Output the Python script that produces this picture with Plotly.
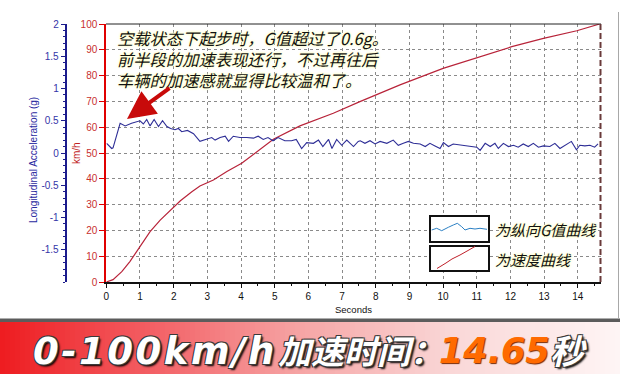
import plotly.graph_objects as go

# ---------------- data ----------------
speed_time = [0, 0.2, 0.46, 0.7, 1.0, 1.3, 1.6, 2.0, 2.2, 2.54, 2.78, 3.18, 3.58, 4.02,
              4.47, 4.96, 5.75, 6.74, 7.53, 8.72, 10.0, 11.4, 12.04, 12.98, 13.97, 14.65]
speed_kmh = [0, 0.9, 4, 7.9, 13.7, 19.5, 24, 29.2, 31.5, 35, 37.2, 39.5, 42.8, 46,
             50.5, 55.3, 60.5, 65.4, 69.9, 76.4, 82.8, 88.6, 91.2, 94.4, 97.4, 100]

accel_time = [0.01, 0.16, 0.2, 0.41, 0.56, 0.75, 1.0, 1.1, 1.2, 1.3, 1.42, 1.55, 1.67, 1.8,
              1.91, 2.04, 2.14, 2.24, 2.41, 2.59, 2.78, 2.98, 3.13, 3.23, 3.38, 3.53, 3.63,
              3.77, 3.97, 4.17, 4.37, 4.51, 4.66, 4.8, 4.95, 5.1, 5.3, 5.5, 5.64, 5.8, 5.95,
              6.15, 6.3, 6.43, 6.6, 6.7, 6.84, 6.99, 7.14, 7.34, 7.48, 7.54, 7.68, 7.83,
              7.98, 8.13, 8.33, 8.52, 8.67, 8.82, 8.97, 9.12, 9.32, 9.47, 9.61, 9.76, 9.91,
              10.01, 10.16, 10.3, 10.6, 11.0, 11.1, 11.25, 11.4, 11.54, 11.64, 11.79, 11.94,
              12.09, 12.23, 12.38, 12.53, 12.68, 12.83, 12.98, 13.17, 13.32, 13.47, 13.62,
              13.81, 13.96, 14.06, 14.21, 14.36, 14.5, 14.6]
accel_g = [0.15, 0.07, 0.08, 0.46, 0.42, 0.46, 0.50, 0.45, 0.52, 0.42, 0.52, 0.41, 0.50, 0.41,
           0.38, 0.36, 0.38, 0.33, 0.35, 0.30, 0.18, 0.21, 0.24, 0.20, 0.24, 0.26, 0.18,
           0.26, 0.24, 0.24, 0.23, 0.26, 0.21, 0.24, 0.19, 0.24, 0.19, 0.19, 0.21, 0.07, 0.16,
           0.15, 0.20, 0.10, 0.21, 0.07, 0.21, 0.12, 0.20, 0.10, 0.18, 0.19, 0.15, 0.19,
           0.14, 0.18, 0.15, 0.20, 0.12, 0.15, 0.18, 0.15, 0.14, 0.10, 0.15, 0.11, 0.07,
           0.16, 0.10, 0.14, 0.12, 0.09, 0.04, 0.15, 0.10, 0.15, 0.07, 0.15, 0.10,
           0.12, 0.09, 0.14, 0.10, 0.15, 0.09, 0.11, 0.10, 0.15, 0.07, 0.12,
           0.18, 0.05, 0.12, 0.11, 0.12, 0.09, 0.14]

speed_ticks = list(range(0, 101, 10))
accel_tickvals = [-1.5, -1, -0.5, 0, 0.5, 1, 1.5, 2]
accel_ticktext = ["-1.5", "-1", "-0.5", "0", "0.5", "1", "1.5", "2"]
time_ticks = list(range(0, 15))

note_lines = ["空载状态下起步时，G值超过了0.6g。",
              "前半段的加速表现还行，不过再往后",
              "车辆的加速感就显得比较温和了。"]
legend_labels = ["为纵向G值曲线", "为速度曲线"]

W, H = 620, 374
def X(px): return px / W
def Y(py): return 1 - py / H

fig = go.Figure()
fig.add_trace(go.Scatter(x=speed_time, y=speed_kmh, mode="lines", yaxis="y",
                         line=dict(color="#b8243a", width=1.2), showlegend=False))
fig.add_trace(go.Scatter(x=accel_time, y=accel_g, mode="lines", yaxis="y2",
                         line=dict(color="#2e2e96", width=1.1), showlegend=False))

shapes = []
# banner gradient
stops = [(0, (238, 28, 32)), (150, (243, 95, 100)), (300, (246, 165, 165)),
         (450, (250, 215, 215)), (620, (255, 246, 246))]
def col(px):
    for (a, ca), (b, cb) in zip(stops[:-1], stops[1:]):
        if a <= px <= b:
            f = (px - a) / (b - a)
            return "rgb(%d,%d,%d)" % tuple(int(ca[i] + f * (cb[i] - ca[i])) for i in range(3))
    return "rgb(255,246,246)"
step = 5
for px in range(0, W, step):
    shapes.append(dict(type="rect", xref="paper", yref="paper", x0=X(px), x1=X(px + step + 0.5),
                       y0=Y(374), y1=Y(322), line=dict(width=0), fillcolor=col(px + step / 2), layer="below"))
shapes.append(dict(type="rect", xref="paper", yref="paper", x0=0, x1=1, y0=Y(322), y1=Y(318.5),
                   line=dict(width=0), fillcolor="#5c5c5c"))
# frame right line
shapes.append(dict(type="line", xref="paper", yref="paper", x0=X(618.5), x1=X(618.5), y0=Y(318), y1=Y(12),
                   line=dict(color="#a8a8a8", width=1)))
# top border & right dashed border
shapes.append(dict(type="line", xref="paper", yref="paper", x0=X(106), x1=X(601), y0=Y(24), y1=Y(24),
                   line=dict(color="#222", width=1)))
shapes.append(dict(type="line", xref="paper", yref="paper", x0=X(600.5), x1=X(600.5), y0=Y(282), y1=Y(24),
                   line=dict(color="#6a3a3a", width=2, dash="6px,3px")))
# legend boxes
for (y0, y1) in [(216, 242), (246, 271)]:
    shapes.append(dict(type="rect", xref="paper", yref="paper", x0=X(430), x1=X(489), y0=Y(y1), y1=Y(y0),
                       line=dict(color="#111", width=2), fillcolor="white"))
wave = [(431.7, 230), (436.7, 228.3), (441.7, 230.7), (448.3, 227.3), (453.3, 225), (457.3, 223.3),
        (461.7, 226.7), (465, 230), (470, 228.3), (475, 229), (480, 228.3), (487, 229.3)]
path = "M " + " L ".join("%.5f,%.5f" % (X(a), Y(b)) for a, b in wave)
shapes.append(dict(type="path", xref="paper", yref="paper", path=path, line=dict(color="#2b80c4", width=1)))
redl = [(437, 268.5), (446, 263), (452, 259), (460, 255), (468, 250.5), (475, 246.5)]
path = "M " + " L ".join("%.5f,%.5f" % (X(a), Y(b)) for a, b in redl)
shapes.append(dict(type="path", xref="paper", yref="paper", path=path, line=dict(color="#c0202a", width=1)))

glow = "0 0 3px #ffffc8, 0 0 3px #ffffc8, 0 0 2px #ffffc8"
cjk = "Noto Sans CJK SC"
ann = []
ann.append(dict(text="<br>".join(note_lines), xref="paper", yref="paper", x=X(115), y=Y(59.5),
                xanchor="left", yanchor="middle", align="left", showarrow=False,
                font=dict(family=cjk, size=16.3, color="#111", style="italic", shadow=glow)))
for t, yy in zip(legend_labels, [229, 259]):
    ann.append(dict(text=t, xref="paper", yref="paper", x=X(493), y=Y(yy), xanchor="left", yanchor="middle",
                    showarrow=False, font=dict(family=cjk, size=15, color="#111", style="italic", shadow=glow)))
# arrow
ann.append(dict(text="", xref="paper", yref="paper", x=X(127), y=Y(119), ax=44, ay=-32, showarrow=True,
                arrowhead=2, arrowsize=1.4, arrowwidth=4, arrowcolor="#c80a0a"))
# axis titles
ann.append(dict(text="Longitudinal Acceleration (g)", xref="paper", yref="paper", x=X(34), y=Y(160),
                xanchor="center", yanchor="middle",
                textangle=-90, showarrow=False, font=dict(family="Liberation Sans", size=10, color="#2a2aa0")))
ann.append(dict(text="km/h", xref="paper", yref="paper", x=X(76), y=Y(153), textangle=-90, showarrow=False,
                xanchor="center", yanchor="middle",
                font=dict(family="Liberation Sans", size=10, color="#c02020")))
ann.append(dict(text="Seconds", xref="paper", yref="paper", x=X(353), y=Y(309.5), showarrow=False,
                xanchor="center", yanchor="middle",
                font=dict(family="Liberation Sans", size=9.5, color="#111")))
# banner text
outline = "-1px -1px 0 #3a3a3a, 1px -1px 0 #3a3a3a, -1px 1px 0 #3a3a3a, 1px 1px 0 #3a3a3a, 2px 2px 2px #000"
ann.append(dict(text="<span style='letter-spacing:2.5px'>0-100km/h</span>", xref="paper", yref="paper",
                x=X(31), y=Y(351), xanchor="left", yanchor="middle",
                showarrow=False, font=dict(family="DejaVu Sans", size=37, color="white", weight="bold",
                                           style="italic", shadow=outline)))
ann.append(dict(text="加速时间：", xref="paper", yref="paper", x=X(276), y=Y(349.5), xanchor="left", yanchor="middle",
                showarrow=False, font=dict(family=cjk, size=33, color="white", weight="bold",
                                           style="italic", shadow=outline)))
ann.append(dict(text="14.65", xref="paper", yref="paper", x=X(437), y=Y(351), xanchor="left", yanchor="middle",
                showarrow=False, font=dict(family="DejaVu Sans", size=35, color="#ff6a00", weight="bold",
                                           style="italic", shadow="1px 1px 1px #7a2a00")))
ann.append(dict(text="秒", xref="paper", yref="paper", x=X(548), y=Y(349), xanchor="left", yanchor="middle",
                showarrow=False, font=dict(family=cjk, size=34, color="white", weight="bold",
                                           style="italic", shadow=outline)))

tickfont = dict(family="Liberation Sans", size=10)
fig.update_layout(
    width=W, height=H, margin=dict(l=0, r=0, t=0, b=0, pad=0),
    paper_bgcolor="white", plot_bgcolor="white", showlegend=False,
    xaxis=dict(domain=[X(106.3), X(600.7)], range=[0, 14.68], tickvals=time_ticks,
               showline=True, linecolor="#111", linewidth=2, ticks="outside", ticklen=4, tickcolor="#111",
               minor=dict(dtick=0.5, ticks="outside", ticklen=2, tickcolor="#111", showgrid=False),
               showgrid=True, gridcolor="#8a8a8a", griddash="3px,3px", gridwidth=1, zeroline=False,
               tickfont=dict(tickfont, color="#111"), automargin=False),
    yaxis=dict(domain=[Y(282), Y(24)], range=[0, 100], tickvals=speed_ticks,
               showline=True, linecolor="#e00000", linewidth=2, ticks="outside", ticklen=5, tickcolor="#e00000",
               showgrid=True, gridcolor="#8a8a8a", griddash="3px,3px", gridwidth=1, zeroline=False,
               tickfont=dict(tickfont, color="#c83030"), automargin=False),
    yaxis2=dict(overlaying="y", anchor="free", position=X(65.7), side="left", range=[-2, 2],
                tickvals=accel_tickvals, ticktext=accel_ticktext,
                showline=True, linecolor="#1c1c8c", linewidth=2, ticks="outside", ticklen=4, tickcolor="#1c1c8c",
                minor=dict(dtick=0.1, ticks="outside", ticklen=2, tickcolor="#1c1c8c", showgrid=False),
                showgrid=False, zeroline=False, tickfont=dict(tickfont, color="#3434a8"), automargin=False),
    shapes=shapes, annotations=ann,
)
fig.write_html("out.html")
